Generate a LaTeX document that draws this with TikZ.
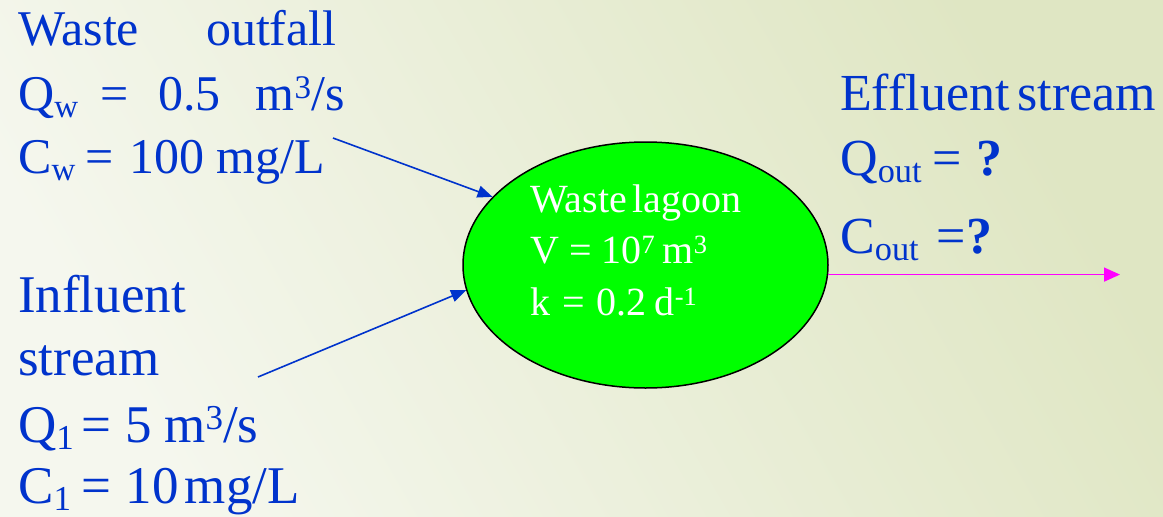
\documentclass[tikz,border=0pt]{standalone}
\usepackage{fontspec}
\setmainfont{Liberation Serif}[WordSpace=0.55]
\usetikzlibrary{shapes.geometric,arrows.meta}
\definecolor{txtblue}{RGB}{0,51,204}
\definecolor{bgdark}{RGB}{223,230,195}
\definecolor{bglight}{RGB}{245,247,238}
\definecolor{lagoongreen}{RGB}{0,255,0}
\definecolor{outmag}{RGB}{255,0,255}
\newcommand{\sbx}[1]{\raisebox{-0.14em}{\scalebox{0.66}{#1}}}
\newcommand{\spx}[1]{\raisebox{0.24em}{\scalebox{0.66}{#1}}}
\begin{document}
\begin{tikzpicture}[x=1pt,y=-1pt,
  lbl/.style={anchor=base west, inner sep=0pt, text=txtblue},
  fa/.style={font=\fontsize{50}{60}\selectfont},
  fb/.style={font=\fontsize{53}{63}\selectfont},
  fc/.style={font=\fontsize{52}{62}\selectfont},
  lagtext/.style={anchor=base west, inner sep=0pt, text=white, font=\fontsize{40}{48}\selectfont},
  lagoonstyle/.style={ellipse, draw=black, line width=1.5pt, fill=lagoongreen, minimum width=365pt, minimum height=246pt, inner sep=0pt},
  bluearrow/.style={draw=txtblue, line width=1.6pt, -{Triangle[length=15pt,width=12pt]}},
  magarrow/.style={draw=outmag, line width=1.6pt, -{Triangle[length=16pt,width=14pt]}}
]
\shade[top color=bgdark,bottom color=bglight,shading angle=-60] (0,0) rectangle (1163,517);
\useasboundingbox (0,0) rectangle (1163,517);

% waste outfall
\node[lbl,fa] (w1) at (18,45) {Waste\hspace{67pt}outfall};
\node[lbl,fa] (w2) at (18,110) {Q\sbx{w}\hspace{22pt}=\hspace{30pt}0.5\hspace{35pt}m\spx{3}/s};
\node[lbl,fa] (w3) at (18,173) {C\sbx{w}\hspace{10pt}=\hspace{16pt}100\hspace{12pt}mg/L};

% influent
\node[lbl,fb] (i1) at (18,312) {Influent};
\node[lbl,fb] (i2) at (18,375) {stream};
\node[lbl,fb] (i3) at (18,442) {Q\sbx{1}\hspace{8pt}=\hspace{14pt}5\hspace{12pt}m\spx{3}/s};
\node[lbl,fb] (i4) at (18,503) {C\sbx{1}\hspace{10pt}=\hspace{15pt}10\hspace{6pt}mg/L};

% effluent
\node[lbl,fc] (e1) at (840,110) {Effluent\hspace{8pt}stream};
\node[lbl,fc] (e2) at (840,175) {Q\sbx{out}\hspace{11pt}=\hspace{15pt}\textbf{?}};
\node[lbl,fc] (e3) at (840,253) {C\sbx{out}\hspace{18pt}=\textbf{?}};

% lagoon
\node[lagoonstyle] (lagoon) at (645.5,265) {};
\node[lagtext] (l1) at (530,212) {Waste lagoon};
\node[lagtext] (l2) at (530,263) {V\hspace{0.25em}=\hspace{0.25em}10\spx{7}\hspace{0.2em}m\spx{3}};
\node[lagtext] (l3) at (530,315) {k\hspace{0.3em}=\hspace{0.3em}0.2\hspace{0.2em}d\spx{-1}};

% connectors
\coordinate (wstart) at (333,138);
\coordinate (istart) at (258,377);
\coordinate (oend) at (1120,277);
\draw[bluearrow] (wstart) -- (lagoon.156.7);
\draw[bluearrow] (istart) -- (lagoon.188.6);
\draw[magarrow] (lagoon.-3.8) -- (oend |- lagoon.-3.8);
\end{tikzpicture}
\end{document}
